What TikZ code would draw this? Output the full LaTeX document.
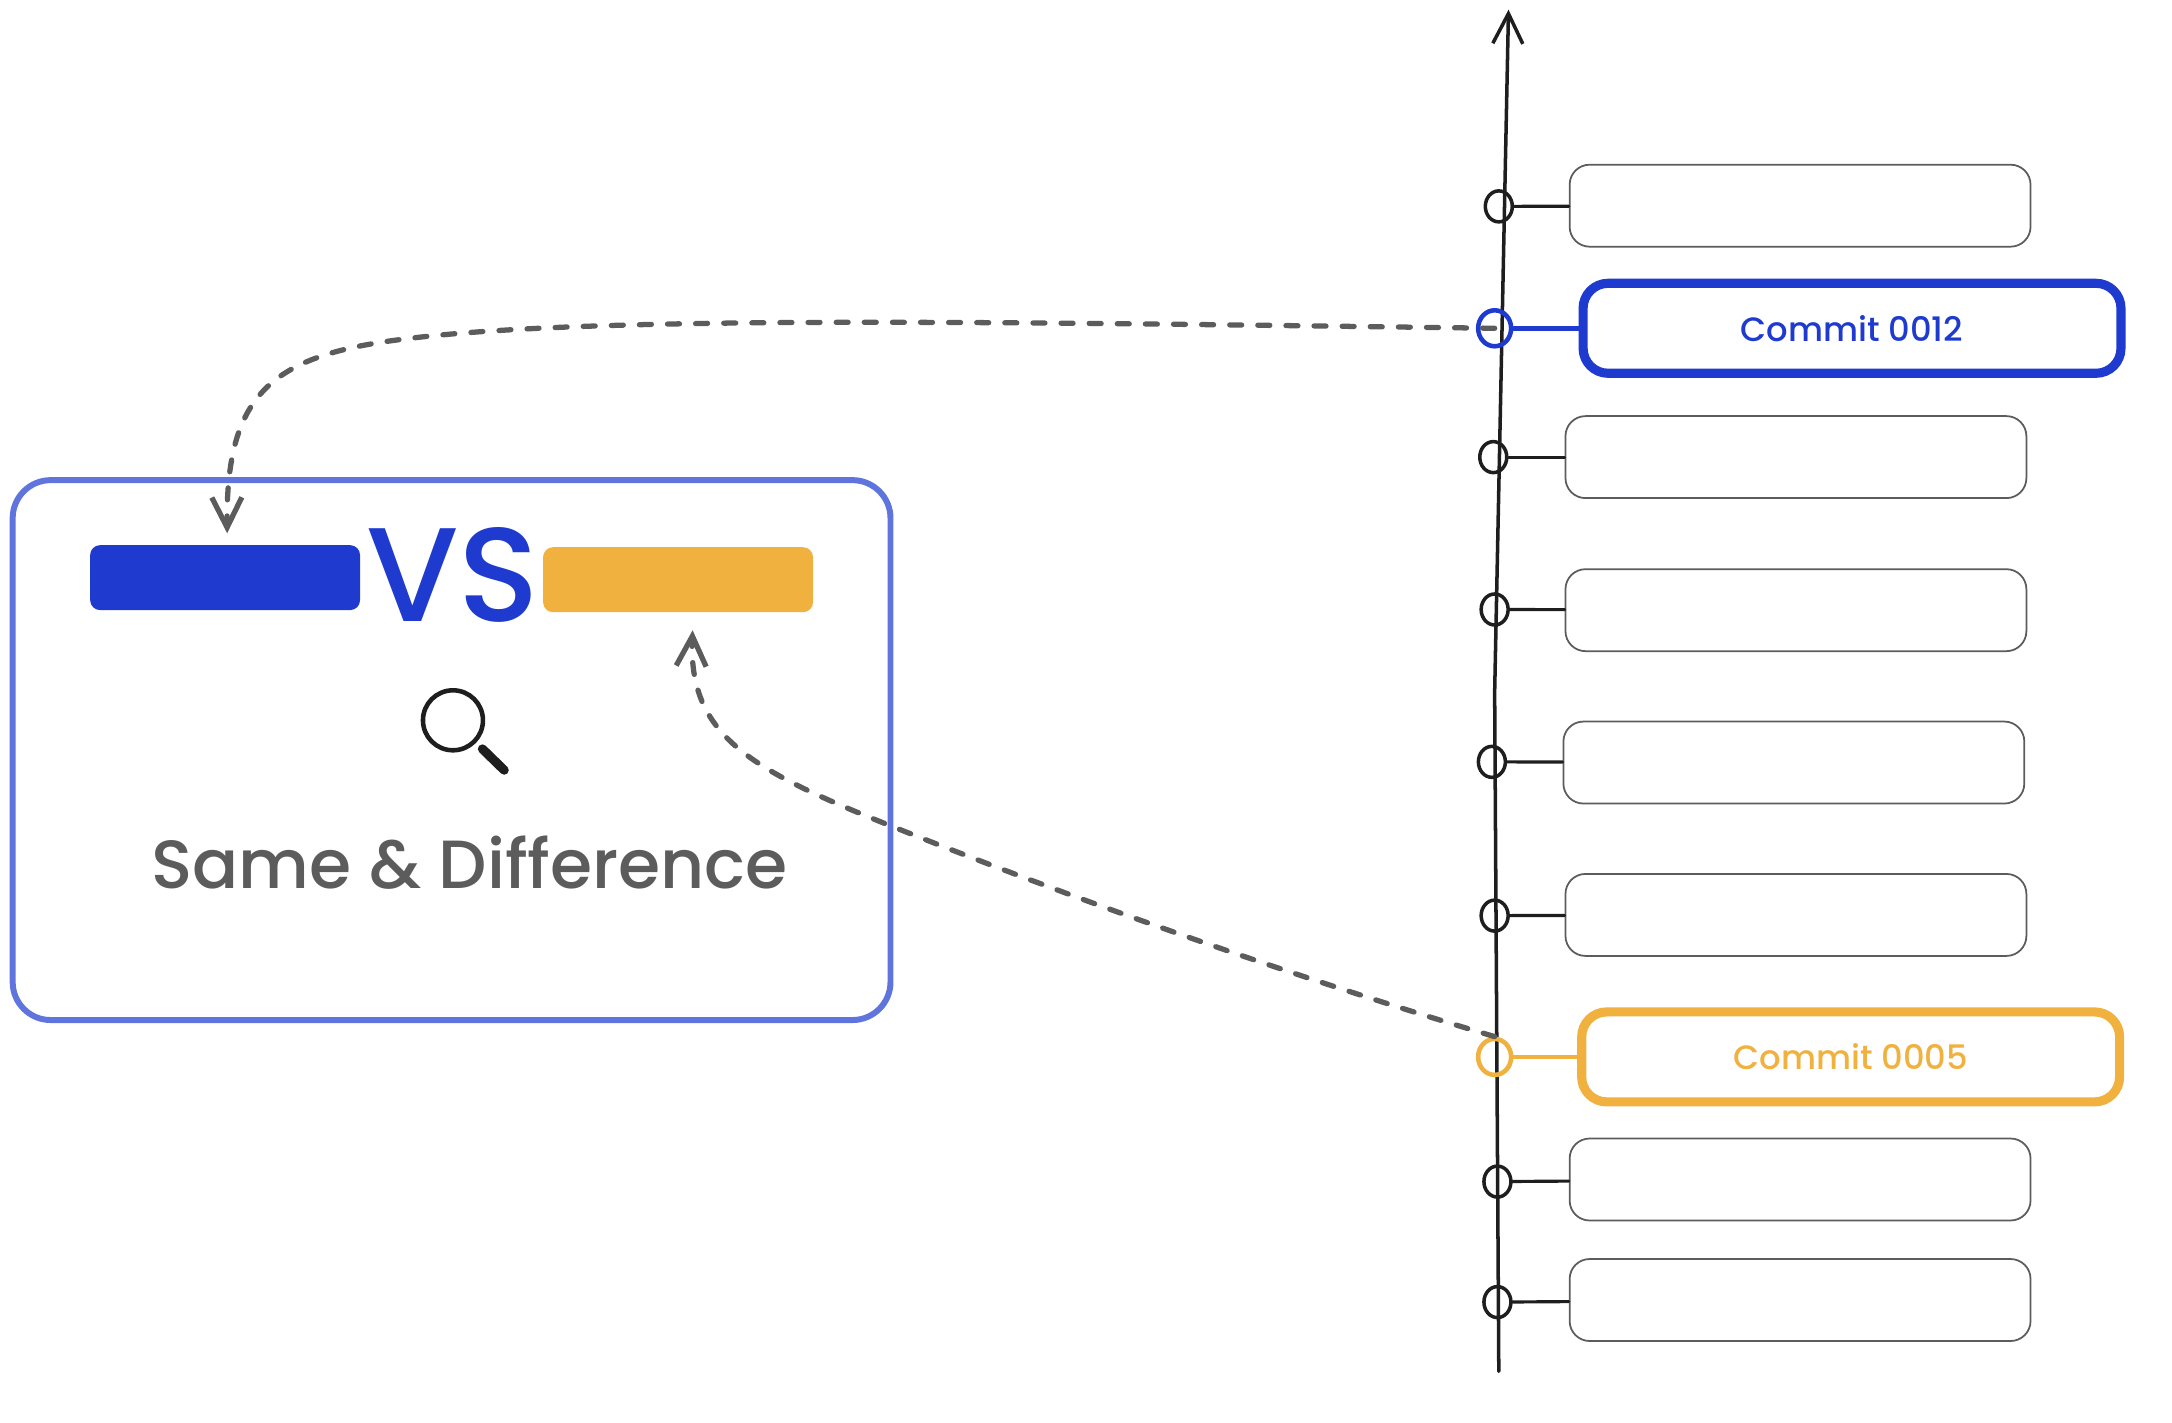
\documentclass[tikz,border=0pt]{standalone}
\usepackage{fontspec}
\setmainfont{Poppins Medium}
\usetikzlibrary{arrows.meta,shapes.geometric}
\definecolor{inkblue}{HTML}{1E3ACF}
\definecolor{inkorange}{HTML}{F0B13F}
\definecolor{inkframe}{HTML}{5F74DC}
\definecolor{inkgray}{HTML}{5C5C5C}
\definecolor{inkblack}{HTML}{1E1E1E}
\tikzset{
	commitbox/.style={draw=inkgray, line width=0.5pt, rounded corners=0.2cm, minimum width=4.61cm, minimum height=0.82cm, inner sep=0pt},
	markbox/.style={draw=#1, text=#1, line width=2.6pt, rounded corners=0.25cm, minimum width=5.38cm, minimum height=0.9cm, inner sep=0pt, font=\fontsize{9.6}{12}\selectfont},
	dot/.style={ellipse, draw=#1, line width=1pt, minimum width=0.27cm, minimum height=0.31cm, inner sep=0pt},
	bar/.style={fill=#1, rounded corners=0.1cm, minimum width=2.7cm, minimum height=0.65cm, inner sep=0pt},
	dashline/.style={->, draw=inkgray, line width=1.5pt, dash pattern=on 3.4pt off 4.6pt}
}
\begin{document}
\begin{tikzpicture}[x=0.01385cm, y=-0.01385cm, line join=round, line cap=round, >={Straight Barb[length=3mm,width=3mm]}]
	\useasboundingbox (0,0) rectangle (1568,1026.7);
	% left frame
	\node[draw=inkframe, line width=1.7pt, rounded corners=0.38cm, minimum width=8.78cm, minimum height=5.4cm, inner sep=0pt] (frame) at (326,541.5) {};
	\node[bar=inkblue] (barblue) at (162.5,417) {};
	\node[bar=inkorange] (barorange) at (489.5,418.5) {};
	\node[text=inkblue, font=\fontsize{38}{44}\selectfont, inner sep=0pt] (vs) at (327,415) {VS};
	\node[circle, draw=inkblack, line width=1.3pt, minimum size=0.6cm, inner sep=0pt] (lens) at (327,520) {};
	\coordinate (grip) at (364,556);
	\draw[draw=inkblack, line width=2.6pt, shorten <=2.5pt] (lens) -- (grip);
	\node[text=inkgray, font=\fontsize{19.4}{22}\selectfont, inner sep=0pt] (title) at (339,623) {Same \& Difference};
	% axis
	\coordinate (axisend) at (1082,990);
	\coordinate (axismid) at (1079,500);
	\coordinate (axistop) at (1089,7);
	\draw[->, draw=inkblack, line width=1pt] (axisend) -- (axismid) -- (axistop);
	% plain commits
	\foreach \n/\px/\py/\qx/\qy in {1/1082/149/1299.5/148.5, 3/1078/330/1296.5/330, 4/1079/440/1296.5/440.5, 5/1077/550/1295/550.5, 6/1079/661/1296.5/660.5, 8/1081/853/1299.5/851.5, 9/1081/940/1299.5/938.5}
	{
		\node[dot=inkblack] (dot\n) at (\px,\py) {};
		\node[commitbox] (box\n) at (\qx,\qy) {};
		\draw[draw=inkblack, line width=0.9pt] (dot\n) -- (box\n);
	}
	% picked commits
	\node[dot=inkblue, line width=1.3pt, minimum width=0.33cm, minimum height=0.36cm] (dot2) at (1079,237) {};
	\node[markbox=inkblue] (box2) at (1337,237) {Commit 0012};
	\draw[draw=inkblue, line width=1.3pt] (dot2) -- (box2);
	\node[dot=inkorange, line width=1.3pt, minimum width=0.33cm, minimum height=0.36cm] (dot7) at (1079,763) {};
	\node[markbox=inkorange] (box7) at (1336,763) {Commit 0005};
	\draw[draw=inkorange, line width=1.3pt] (dot7) -- (box7);
	% dashed links
	\coordinate (tipblue) at (164,385);
	\coordinate (tiporange) at (500,455);
	\draw[dashline] (dot2.center) .. controls (700,232) and (420,228) .. (290,245) .. controls (195,257) and (163,285) .. (tipblue);
	\draw[dashline] (dot7.north) .. controls (900,695) and (740,635) .. (640,595) .. controls (540,555) and (497,530) .. (tiporange);
\end{tikzpicture}
\end{document}
